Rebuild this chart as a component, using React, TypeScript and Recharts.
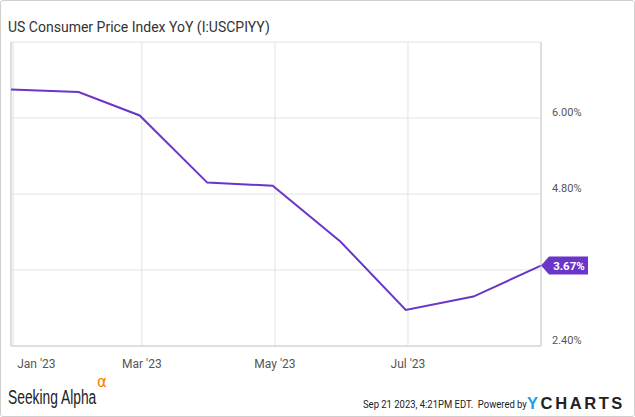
import React from "react";
import {
  LineChart, Line, XAxis, YAxis, CartesianGrid, ReferenceDot, ReferenceLine,
} from "recharts";

// month-end observation dates (UTC)
const DATES = ["2022-12-31", "2023-01-31", "2023-02-28", "2023-03-31", "2023-04-30",
               "2023-05-31", "2023-06-30", "2023-07-31", "2023-08-31"];
const CPI_YOY = [6.45, 6.41, 6.04, 4.98, 4.93, 4.05, 2.97, 3.18, 3.67];

const X_TICKS = ["2023-01-01", "2023-03-01", "2023-05-01", "2023-07-01"];
const X_TICK_LABELS = ["Jan '23", "Mar '23", "May '23", "Jul '23"];
const Y_TICKS = [2.4, 3.6, 4.8, 6.0, 7.2];
const Y_LABELED = [2.4, 4.8, 6.0];

const PURPLE = "#6b35c9";
const FONT = "Roboto, 'Noto Sans', sans-serif";

const ts = (d: string) => Date.parse(d + "T00:00:00Z");

const data = DATES.map((d, i) => ({ t: ts(d), v: CPI_YOY[i] }));
const xTicks = X_TICKS.map(ts);
const last = data[data.length - 1];

const XTick = ({ x, y, payload }: any) => {
  const i = xTicks.indexOf(payload.value);
  const label = X_TICK_LABELS[i] ?? "";
  const first = i === 0;
  return (
    <text x={first ? x + 4 : x} y={y + 14} textAnchor={first ? "start" : "middle"}
      fontSize={12} fill="#555" fontFamily={FONT}>
      {label}
    </text>
  );
};

const YTick = ({ x, y, payload }: any) => {
  if (!Y_LABELED.includes(payload.value)) return null;
  return (
    <text x={x + 3} y={y - 2} textAnchor="start" fontSize={11} fill="#555" fontFamily={FONT}>
      {payload.value.toFixed(2)}%
    </text>
  );
};

const Badge = ({ cx, cy }: any) => {
  if (cx == null || cy == null) return null;
  const pts = [
    [cx, cy], [cx + 8, cy - 9], [cx + 47, cy - 9], [cx + 47, cy + 9], [cx + 8, cy + 9],
  ].map((p) => p.join(",")).join(" ");
  return (
    <g>
      <polygon points={pts} fill={PURPLE} />
      <text x={cx + 28} y={cy + 4} textAnchor="middle" fontSize={11.5} fontWeight="bold"
        fill="#fff" fontFamily={FONT}>
        {last.v.toFixed(2)}%
      </text>
    </g>
  );
};

export default function App() {
  return (
    <div style={{ position: "relative", width: 635, height: 417, background: "#fff",
      fontFamily: FONT, overflow: "hidden" }}>
      <style>{`body{margin:0}`}</style>
      <div style={{ position: "absolute", inset: 0, border: "1px solid #cfcfcf",
        borderRadius: 3, boxSizing: "border-box" }} />
      <div style={{ position: "absolute", left: 8, top: 19, fontSize: 14, color: "#333" }}>
        US Consumer Price Index YoY (I:USCPIYY)
      </div>

      <LineChart width={635} height={417} data={data}
        margin={{ top: 42, right: 0, left: 11, bottom: 41 }}>
        <CartesianGrid stroke="#e2e2e2" />
        <XAxis dataKey="t" type="number" scale="time" domain={[data[0].t, last.t]}
          ticks={xTicks} interval={0} tick={<XTick />} tickLine={false} height={30}
          axisLine={{ stroke: "#cccccc" }} />
        <YAxis orientation="right" type="number" domain={[2.4, 7.2]} ticks={Y_TICKS}
          interval={0} tick={<YTick />} tickLine={false} width={94}
          axisLine={{ stroke: "#cccccc" }} />
        <ReferenceLine x={data[0].t} stroke="#cccccc" />
        <Line type="linear" dataKey="v" stroke={PURPLE} strokeWidth={2} dot={false}
          isAnimationActive={false} />
        <ReferenceDot x={last.t} y={last.v} shape={<Badge />} />
      </LineChart>

      <div style={{ position: "absolute", left: 8, top: 386, fontFamily: "'Liberation Sans', Arial, sans-serif",
        fontSize: 20, color: "#222", transform: "scaleX(0.69)", transformOrigin: "left top",
        whiteSpace: "nowrap" }}>
        Seeking Alpha
      </div>
      <div style={{ position: "absolute", left: 97, top: 373, fontFamily: "'DejaVu Sans', sans-serif",
        fontSize: 15, color: "#f57c00" }}>
        α
      </div>
      <div style={{ position: "absolute", left: 363, top: 398, fontSize: 11, color: "#222",
        transform: "scaleX(0.86)", transformOrigin: "left top", whiteSpace: "nowrap" }}>
        Sep 21 2023, 4:21PM EDT.&nbsp; Powered by
      </div>
      <div style={{ position: "absolute", left: 527, top: 394, fontSize: 16.5, fontWeight: 900,
        fontFamily: "'Liberation Sans', Arial, sans-serif", letterSpacing: 2.6, color: "#222",
        whiteSpace: "nowrap" }}>
        <span style={{ color: "#1aa0e6" }}>Y</span>CHARTS
      </div>
    </div>
  );
}
